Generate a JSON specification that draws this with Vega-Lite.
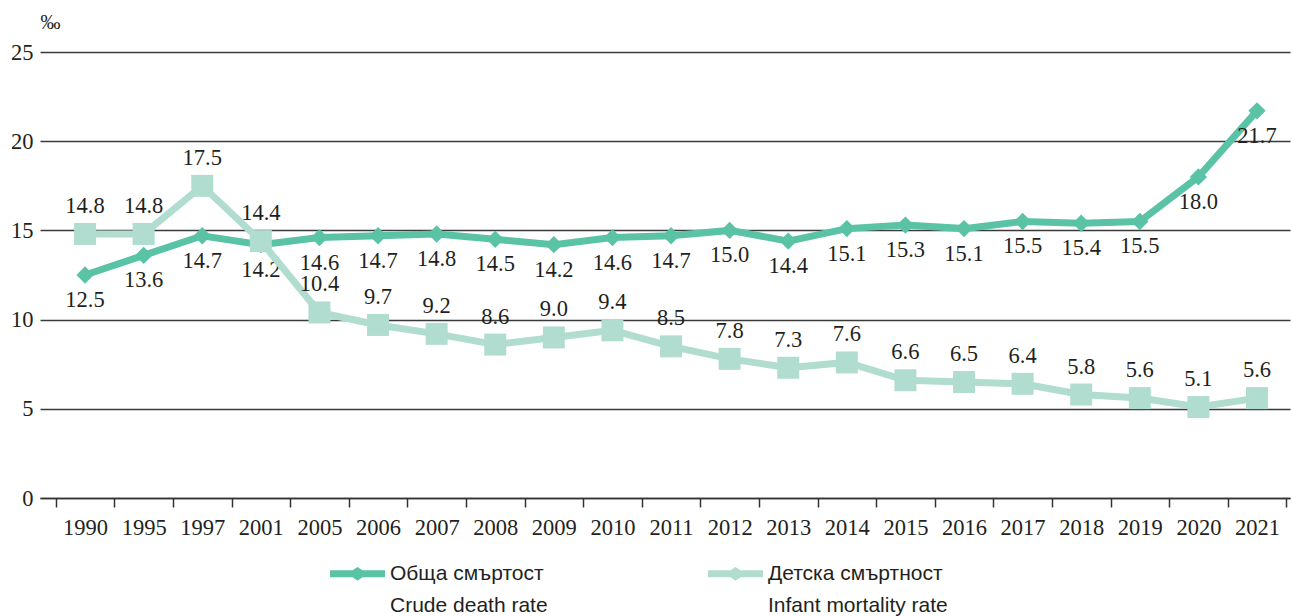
{
  "$schema": "https://vega.github.io/schema/vega-lite/v6.json",
  "width": 1250,
  "height": 446,
  "autosize": {"type": "none"},
  "padding": {"left": 40, "top": 52, "right": 2, "bottom": 118},
  "background": "white",
  "config": {
    "view": {"stroke": null},
    "style": {"guide-label": {"lineHeight": 32}}
  },
  "data": {"values": [
    {"year": "1990", "series": "Обща смъртост", "value": 12.5},
    {"year": "1995", "series": "Обща смъртост", "value": 13.6},
    {"year": "1997", "series": "Обща смъртост", "value": 14.7},
    {"year": "2001", "series": "Обща смъртост", "value": 14.2},
    {"year": "2005", "series": "Обща смъртост", "value": 14.6},
    {"year": "2006", "series": "Обща смъртост", "value": 14.7},
    {"year": "2007", "series": "Обща смъртост", "value": 14.8},
    {"year": "2008", "series": "Обща смъртост", "value": 14.5},
    {"year": "2009", "series": "Обща смъртост", "value": 14.2},
    {"year": "2010", "series": "Обща смъртост", "value": 14.6},
    {"year": "2011", "series": "Обща смъртост", "value": 14.7},
    {"year": "2012", "series": "Обща смъртост", "value": 15.0},
    {"year": "2013", "series": "Обща смъртост", "value": 14.4},
    {"year": "2014", "series": "Обща смъртост", "value": 15.1},
    {"year": "2015", "series": "Обща смъртост", "value": 15.3},
    {"year": "2016", "series": "Обща смъртост", "value": 15.1},
    {"year": "2017", "series": "Обща смъртост", "value": 15.5},
    {"year": "2018", "series": "Обща смъртост", "value": 15.4},
    {"year": "2019", "series": "Обща смъртост", "value": 15.5},
    {"year": "2020", "series": "Обща смъртост", "value": 18.0},
    {"year": "2021", "series": "Обща смъртост", "value": 21.7},
    {"year": "1990", "series": "Детска смъртност", "value": 14.8},
    {"year": "1995", "series": "Детска смъртност", "value": 14.8},
    {"year": "1997", "series": "Детска смъртност", "value": 17.5},
    {"year": "2001", "series": "Детска смъртност", "value": 14.4},
    {"year": "2005", "series": "Детска смъртност", "value": 10.4},
    {"year": "2006", "series": "Детска смъртност", "value": 9.7},
    {"year": "2007", "series": "Детска смъртност", "value": 9.2},
    {"year": "2008", "series": "Детска смъртност", "value": 8.6},
    {"year": "2009", "series": "Детска смъртност", "value": 9.0},
    {"year": "2010", "series": "Детска смъртност", "value": 9.4},
    {"year": "2011", "series": "Детска смъртност", "value": 8.5},
    {"year": "2012", "series": "Детска смъртност", "value": 7.8},
    {"year": "2013", "series": "Детска смъртност", "value": 7.3},
    {"year": "2014", "series": "Детска смъртност", "value": 7.6},
    {"year": "2015", "series": "Детска смъртност", "value": 6.6},
    {"year": "2016", "series": "Детска смъртност", "value": 6.5},
    {"year": "2017", "series": "Детска смъртност", "value": 6.4},
    {"year": "2018", "series": "Детска смъртност", "value": 5.8},
    {"year": "2019", "series": "Детска смъртност", "value": 5.6},
    {"year": "2020", "series": "Детска смъртност", "value": 5.1},
    {"year": "2021", "series": "Детска смъртност", "value": 5.6}
  ]},
  "encoding": {
    "x": {
      "field": "year", "type": "ordinal", "sort": null,
      "scale": {"type": "band", "paddingInner": 0, "paddingOuter": 0.166, "align": 0.81},
      "axis": {
        "title": null, "labelAngle": 0, "tickBand": "extent",
        "labelFont": "Liberation Serif", "labelFontSize": 22.5, "labelColor": "#231f20",
        "labelPadding": 9, "tickSize": 9, "tickColor": "#333333", "tickWidth": 1.5,
        "domainColor": "#333333", "domainWidth": 1.5, "grid": false
      }
    },
    "y": {
      "field": "value", "type": "quantitative",
      "scale": {"domain": [0, 25], "nice": false},
      "axis": {
        "values": [0, 5, 10, 15, 20, 25], "domain": false, "ticks": false,
        "grid": true, "gridColor": "#3a3a3a", "gridWidth": 1.5,
        "labelFont": "Liberation Serif", "labelFontSize": 22.5, "labelColor": "#231f20",
        "labelPadding": 7,
        "title": "‰", "titleAngle": 0, "titleAlign": "left", "titleBaseline": "middle",
        "titleX": 0, "titleY": -30, "titleFont": "Liberation Serif", "titleFontSize": 20,
        "titleFontWeight": "normal", "titleColor": "#231f20"
      }
    },
    "color": {
      "field": "series", "type": "nominal",
      "scale": {"domain": ["Обща смъртост", "Детска смъртност"], "range": ["#5bc3a5", "#b1ddd0"]},
      "legend": {
        "orient": "none", "legendX": 290, "legendY": 494, "direction": "horizontal",
        "title": null, "padding": 0, "columnPadding": 160,
        "symbolType": "M-1,-0.127L-0.18,-0.127L0,-0.25L0.18,-0.127L1,-0.127L1,0.127L0.18,0.127L0,0.25L-0.18,0.127L-1,0.127Z",
        "symbolSize": 3025, "symbolStrokeWidth": 0, "symbolOpacity": 1,
        "labelFont": "Liberation Sans", "labelFontSize": 21, "labelColor": "#231f20",
        "labelOffset": 5, "labelLimit": 400, "labelBaseline": "middle",
        "labelExpr": "datum.label == 'Обща смъртост' ? ['Обща смъртост', 'Crude death rate'] : ['Детска смъртност', 'Infant mortality rate']"
      }
    }
  },
  "layer": [
    {
      "transform": [{"filter": "datum.series == 'Обща смъртост'"}],
      "layer": [
        {"mark": {"type": "line", "strokeWidth": 7}},
        {"mark": {"type": "point", "filled": true, "opacity": 1, "shape": "diamond", "size": 300}},
        {
          "mark": {"type": "text", "dy": 25, "font": "Liberation Serif", "fontSize": 22.5, "fill": "#231f20"},
          "encoding": {"text": {"field": "value", "type": "quantitative", "format": ".1f"}, "color": {"value": "#231f20"}}
        }
      ]
    },
    {
      "transform": [{"filter": "datum.series == 'Детска смъртност'"}],
      "layer": [
        {"mark": {"type": "line", "strokeWidth": 7}},
        {"mark": {"type": "point", "filled": true, "opacity": 1, "shape": "square", "size": 484}},
        {
          "mark": {"type": "text", "dy": -28, "font": "Liberation Serif", "fontSize": 22.5, "fill": "#231f20"},
          "encoding": {"text": {"field": "value", "type": "quantitative", "format": ".1f"}, "color": {"value": "#231f20"}}
        }
      ]
    }
  ]
}
